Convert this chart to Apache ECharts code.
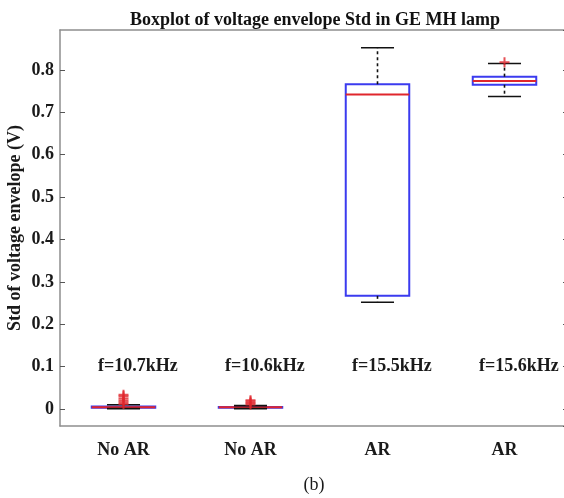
<!DOCTYPE html>
<html>
<head>
<meta charset="utf-8">
<script src="https://cdn.jsdelivr.net/npm/echarts@6/dist/echarts.min.js"></script>
<style>
  html, body { margin: 0; padding: 0; background: #fff; }
  #chart { width: 564px; height: 498px; }
</style>
</head>
<body>
<div id="chart"></div>
<script>
// groups along the x axis
const categories = ['No AR', 'No AR', 'AR', 'AR']
const freqLabels = ['f=10.7kHz', 'f=10.6kHz', 'f=15.5kHz', 'f=15.6kHz']
const freqLabelLevel = 0.1

// [lower whisker, q1, median, q3, upper whisker]
const boxStats = [
  [0.001, 0.003, 0.004, 0.006, 0.010],
  [0.001, 0.003, 0.004, 0.005, 0.008],
  [0.252, 0.267, 0.742, 0.766, 0.852],
  [0.737, 0.765, 0.774, 0.784, 0.815]
]

// [group index, value]
const outliers = [
  [0, 0.012], [0, 0.016], [0, 0.020], [0, 0.025], [0, 0.030], [0, 0.034],
  [1, 0.011], [1, 0.014], [1, 0.018], [1, 0.021],
  [3, 0.818]
]

const yMin = -0.04
const yMax = 0.894

const fontFamily = 'Liberation Serif'
const axisColor = '#8e8e8e'
const textColor = '#1a1a1a'

const chart = echarts.init(document.getElementById('chart'))

function renderBox(params, api) {
  const idx = api.value(0)
  const band = api.size([1, 0])[0]
  const xc = api.coord([idx, 0])[0]
  const yLo = api.coord([idx, api.value(1)])[1]
  const yQ1 = api.coord([idx, api.value(2)])[1]
  const yMed = api.coord([idx, api.value(3)])[1]
  const yQ3 = api.coord([idx, api.value(4)])[1]
  const yHi = api.coord([idx, api.value(5)])[1]
  const halfBox = band * 0.25
  const halfCap = band * 0.13
  const whisker = { stroke: '#111', lineWidth: 1.6, lineDash: [3, 3] }
  const cap = { stroke: '#111', lineWidth: 1.6 }
  return {
    type: 'group',
    children: [
      {
        type: 'rect',
        shape: { x: xc - halfBox, y: yQ3, width: halfBox * 2, height: yQ1 - yQ3 },
        style: { fill: 'none', stroke: '#3b3bef', lineWidth: 2 }
      },
      {
        type: 'line',
        shape: { x1: xc - halfBox, y1: yMed, x2: xc + halfBox, y2: yMed },
        style: { stroke: '#e0262c', lineWidth: 2 }
      },
      {
        type: 'line',
        shape: { x1: xc, y1: yQ3, x2: xc, y2: yHi },
        style: whisker
      },
      {
        type: 'line',
        shape: { x1: xc, y1: yQ1, x2: xc, y2: yLo },
        style: whisker
      },
      {
        type: 'line',
        shape: { x1: xc - halfCap, y1: yHi, x2: xc + halfCap, y2: yHi },
        style: cap
      },
      {
        type: 'line',
        shape: { x1: xc - halfCap, y1: yLo, x2: xc + halfCap, y2: yLo },
        style: cap
      }
    ]
  }
}

function renderFreq(params, api) {
  const idx = api.value(0)
  const band = api.size([1, 0])[0]
  const pt = api.coord([idx, api.value(1)])
  return {
    type: 'text',
    x: pt[0] - band * 0.2,
    y: pt[1],
    style: {
      text: freqLabels[idx],
      fill: textColor,
      font: 'bold 18px "' + fontFamily + '"',
      align: 'left',
      verticalAlign: 'middle'
    }
  }
}

const axisLabelStyle = {
  fontFamily: fontFamily,
  fontWeight: 'bold',
  fontSize: 18,
  color: textColor
}

chart.setOption({
  backgroundColor: '#fff',
  animation: false,
  title: {
    text: 'Boxplot of voltage envelope Std in GE MH lamp',
    left: 310,
    textAlign: 'center',
    top: 6,
    textStyle: {
      fontFamily: fontFamily,
      fontWeight: 'bold',
      fontSize: 18,
      color: '#111'
    }
  },
  grid: {
    left: 60,
    right: -4,
    top: 30,
    bottom: 72,
    containLabel: false,
    outerBoundsMode: 'none'
  },
  xAxis: [{
    type: 'category',
    data: categories,
    position: 'bottom',
    name: '(b)',
    nameLocation: 'middle',
    nameGap: 50,
    nameMoveOverlap: false,
    nameTextStyle: {
      fontFamily: fontFamily,
      fontSize: 18,
      color: textColor
    },
    axisLine: { onZero: false, lineStyle: { color: axisColor, width: 1.5 } },
    axisTick: { inside: true, alignWithLabel: true, length: 5, lineStyle: { color: '#444' } },
    axisLabel: Object.assign({ margin: 15 }, axisLabelStyle),
    splitLine: { show: false }
  }, {
    type: 'category',
    data: categories,
    position: 'top',
    axisLine: { onZero: false, lineStyle: { color: axisColor, width: 1.5 } },
    axisTick: { inside: true, alignWithLabel: true, length: 5, lineStyle: { color: '#444' } },
    axisLabel: { show: false },
    splitLine: { show: false }
  }],
  yAxis: [{
    type: 'value',
    min: yMin,
    max: yMax,
    splitNumber: 9,
    name: 'Std of voltage envelope (V)',
    nameLocation: 'middle',
    nameGap: 36,
    nameMoveOverlap: false,
    nameTextStyle: {
      fontFamily: fontFamily,
      fontWeight: 'bold',
      fontSize: 18,
      color: textColor
    },
    axisLine: { show: true, onZero: false, lineStyle: { color: axisColor, width: 1.5 } },
    axisTick: { show: true, inside: true, length: 5, lineStyle: { color: '#555' } },
    axisLabel: Object.assign({ margin: 6, showMinLabel: false, showMaxLabel: false }, axisLabelStyle),
    splitLine: { show: false }
  }, {
    type: 'value',
    min: yMin,
    max: yMax,
    splitNumber: 9,
    position: 'right',
    axisLine: { show: true, onZero: false, lineStyle: { color: axisColor, width: 1.5 } },
    axisTick: { show: true, inside: true, length: 5, lineStyle: { color: '#555' } },
    axisLabel: { show: false },
    splitLine: { show: false }
  }],
  series: [{
    type: 'custom',
    renderItem: renderBox,
    xAxisIndex: 0,
    yAxisIndex: 0,
    encode: { x: 0, y: [1, 2, 3, 4, 5] },
    data: boxStats.map((s, i) => [i].concat(s)),
    z: 2
  }, {
    type: 'scatter',
    xAxisIndex: 0,
    yAxisIndex: 0,
    symbol: 'path://M4,0H6V4H10V6H6V10H4V6H0V4H4Z',
    symbolSize: 10,
    itemStyle: { color: '#e0262c' },
    data: outliers,
    z: 3
  }, {
    type: 'custom',
    renderItem: renderFreq,
    xAxisIndex: 0,
    yAxisIndex: 0,
    encode: { x: 0, y: 1 },
    data: freqLabels.map((t, i) => [i, freqLabelLevel]),
    z: 4
  }]
})
</script>
</body>
</html>
